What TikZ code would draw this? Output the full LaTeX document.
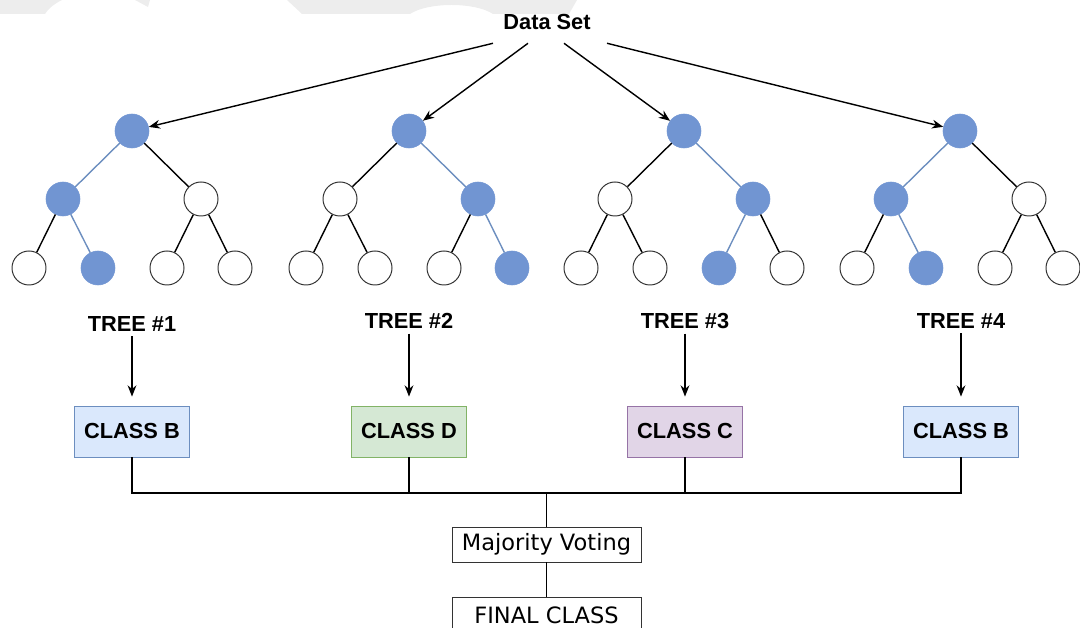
\documentclass[tikz,border=0pt]{standalone}
\usepackage{fontspec}
\setmainfont{Liberation Sans}
\newfontfamily\votefont{DejaVu Sans}
\usetikzlibrary{arrows.meta}
\definecolor{nodeblue}{RGB}{113,149,210}
\definecolor{pathblue}{RGB}{108,142,191}
\definecolor{fillB}{RGB}{218,232,252}
\definecolor{lineB}{RGB}{108,142,191}
\definecolor{fillD}{RGB}{213,232,212}
\definecolor{lineD}{RGB}{130,179,102}
\definecolor{fillC}{RGB}{225,213,231}
\definecolor{lineC}{RGB}{150,115,166}
\definecolor{markgray}{RGB}{237,237,237}

\begin{document}
\begin{tikzpicture}
    [x = 0.025cm, y = -0.025cm,
     dot/.style = {circle, minimum size = 0.85cm, inner sep = 0pt},
     plain/.style = {dot, draw = black!80, line width = 0.7pt, fill = white},
     picked/.style = {dot, draw = nodeblue, fill = nodeblue},
     line plain/.style = {black, line width = 1pt},
     line picked/.style = {pathblue, line width = 1pt},
     title/.style = {font = \fontsize{15.5}{18}\selectfont\bfseries},
     classbox/.style = {title, line width = 0.6pt, minimum width = 2.875cm, minimum height = 1.275cm},
     votebox/.style = {draw = black!80, line width = 0.6pt, minimum width = 4.725cm, minimum height = 0.875cm,
                       font = \votefont\fontsize{16}{18}\selectfont},
     arr/.style = {-{Stealth[length = 0.28cm, width = 0.22cm]}, line width = 1pt}]
    \useasboundingbox (0,0) rectangle (1080,628);
    \fill[markgray] (0,0) -- (62,0) .. controls (54,4) and (48,9) .. (45,14) -- (0,14) -- cycle;
    \fill[markgray] (135,0) -- (150,0) -- (148,7) -- cycle;
    \fill[markgray] (287,0) -- (577,0) -- (569,14) -- (493,14) .. controls (475,2) and (428,2) .. (410,14) -- (302,14) -- cycle;

    \node[title, minimum height = 1.05cm] (ds) at (547,22) {Data Set};
    \foreach \t/\x/\a/\b/\aa/\ab/\ba/\bb in
      {1/132/picked/plain/plain/picked/plain/plain,
       2/409/plain/picked/plain/plain/plain/picked,
       3/684/plain/picked/plain/plain/picked/plain,
       4/960/picked/plain/plain/picked/plain/plain}
    {
      \node[picked] (r\t) at (\x,131) {};
      \node[\a] (a\t) at (\x-69,199) {};
      \node[\b] (b\t) at (\x+69,199) {};
      \node[\aa] (aa\t) at (\x-103,268) {};
      \node[\ab] (ab\t) at (\x-34,268) {};
      \node[\ba] (ba\t) at (\x+35,268) {};
      \node[\bb] (bb\t) at (\x+103,268) {};
      \draw[line \a] (r\t) -- (a\t);
      \draw[line \b] (r\t) -- (b\t);
      \draw[line \aa] (a\t) -- (aa\t);
      \draw[line \ab] (a\t) -- (ab\t);
      \draw[line \ba] (b\t) -- (ba\t);
      \draw[line \bb] (b\t) -- (bb\t);
    }
    \foreach \s/\t in {-1.35cm/1, -0.475cm/2, 0.425cm/3, 1.5cm/4}
      \draw[arr] ([xshift = \s]ds.south) -- (r\t);

    \foreach \t/\x/\y/\k in {1/132/324/B, 2/409/321/D, 3/685/321/C, 4/961/321/B}
    {
      \node[title] (t\t) at (\x,\y) {TREE \#\t};
      \node[classbox, fill = fill\k, draw = line\k] (c\t) at (\x,431.5) {CLASS \k};
      \draw[arr, shorten > = 0.225cm] (t\t) -- (c\t);
    }

    \coordinate (bus) at (546.5,493);
    \node[votebox] (vote) at (546.5,544.5) {Majority Voting};
    \node[votebox, minimum height = 0.9cm] (final) at (546.5,615) {FINAL CLASS};
    \draw[line plain] (c1.south) |- (bus) -| (c4.south);
    \foreach \t in {2,3}
      \draw[line plain] (c\t.south) -- (c\t.south |- bus);
    \draw[line plain] (bus) -- (vote);
    \draw[line plain] (vote) -- (final);
\end{tikzpicture}
\end{document}
